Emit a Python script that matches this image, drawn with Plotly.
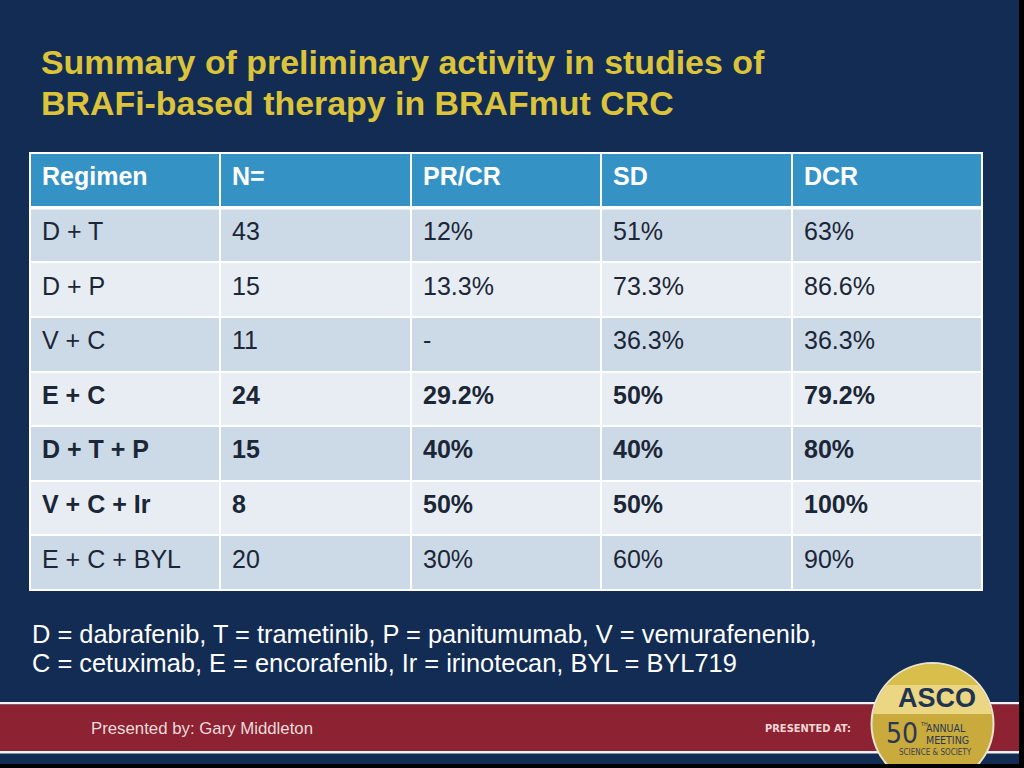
import numpy as np
import plotly.graph_objects as go

# ---- data ----
header = ["Regimen", "N=", "PR/CR", "SD", "DCR"]
regimens = ["D + T", "D + P", "V + C", "E + C", "D + T + P", "V + C + Ir", "E + C + BYL"]
n_pts = ["43", "15", "11", "24", "15", "8", "20"]
pr_cr = ["12%", "13.3%", "-", "29.2%", "40%", "50%", "30%"]
sd = ["51%", "73.3%", "36.3%", "50%", "40%", "50%", "60%"]
dcr = ["63%", "86.6%", "36.3%", "79.2%", "80%", "100%", "90%"]
bold_rows = [3, 4, 5]

title_lines = ["Summary of preliminary activity in studies of",
               "BRAFi-based therapy in BRAFmut CRC"]
footnote_lines = ["D = dabrafenib, T = trametinib, P = panitumumab, V = vemurafenenib,",
                  "C = cetuximab, E = encorafenib, Ir = irinotecan, BYL = BYL719"]
presenter = "Presented by: Gary Middleton"

# ---- styles ----
W, H = 1024, 768
NAVY = "#132c54"
HEAD = "#3592c5"
ROW_DARK = "#ccd9e6"
ROW_LIGHT = "#e8edf3"
TXT = "#1b2636"
YEL = "#dcc43a"
RED = "#8c2232"
FONT = "Liberation Sans, Arial, sans-serif"
COND = "DejaVu Sans Condensed, DejaVu Sans, sans-serif"


def px(x):
    return x / W


def py(y):
    return 1 - y / H


columns = [regimens, n_pts, pr_cr, sd, dcr]
n_rows = len(regimens)

# table grid: row 0 = header, rows 1..n = data
z = [[0] * 5] + [[1 if i % 2 == 0 else 2] * 5 for i in range(n_rows)]

tx0, tx1, ty0, ty1 = 30, 982, 153, 590

fig = go.Figure()
fig.add_trace(go.Heatmap(
    z=z, x=list(range(5)), y=list(range(n_rows + 1)),
    zmin=0, zmax=2, colorscale=[[0, HEAD], [0.333, HEAD], [0.334, ROW_DARK], [0.666, ROW_DARK],
                               [0.667, ROW_LIGHT], [1, ROW_LIGHT]],
    showscale=False, xgap=2, ygap=2, hoverinfo="skip",
    xaxis="x2", yaxis="y2",
))

shapes = []
# white grid background behind table
shapes.append(dict(type="rect", xref="paper", yref="paper", x0=px(tx0 - 1), x1=px(tx1 + 1),
                   y0=py(ty1 + 1), y1=py(ty0 - 1), fillcolor="white", line_width=0, layer="below"))
# thicker line under header
shapes.append(dict(type="line", xref="x2", yref="y2", x0=-0.5, x1=4.5, y0=0.5, y1=0.5,
                   line=dict(color="white", width=3.5), layer="above"))

# footer band
shapes.append(dict(type="rect", xref="paper", yref="paper", x0=0, x1=1, y0=py(704.5), y1=py(702),
                   fillcolor="#f2f2f2", line_width=0, layer="below"))
shapes.append(dict(type="rect", xref="paper", yref="paper", x0=0, x1=1, y0=py(751), y1=py(704.5),
                   fillcolor=RED, line_width=0, layer="below"))
shapes.append(dict(type="rect", xref="paper", yref="paper", x0=0, x1=1, y0=py(753.5), y1=py(751),
                   fillcolor="#f2f2f2", line_width=0, layer="below"))

# logo
cx, cy, r = 932.5, 724, 60
shapes.append(dict(type="circle", xref="paper", yref="paper", x0=px(cx - r - 2), x1=px(cx + r + 2),
                   y0=py(cy + r + 2), y1=py(cy - r - 2), fillcolor="#e9e4cf", line_width=0, layer="above"))
shapes.append(dict(type="circle", xref="paper", yref="paper", x0=px(cx - r), x1=px(cx + r),
                   y0=py(cy + r), y1=py(cy - r), fillcolor="#c9aa3c", line_width=0, layer="above"))


def band(ya, yb, color):
    ts = np.linspace(ya, yb, 40)
    left = [(cx - np.sqrt(max(r * r - (t - cy) ** 2, 0)), t) for t in ts]
    right = [(cx + np.sqrt(max(r * r - (t - cy) ** 2, 0)), t) for t in ts[::-1]]
    pts = left + right
    path = "M " + " L ".join(f"{px(x):.5f},{py(y):.5f}" for x, y in pts) + " Z"
    return dict(type="path", xref="paper", yref="paper", path=path, fillcolor=color,
                line_width=0, layer="above")


shapes.append(band(cy - r, 685, "#d8bf4c"))
shapes.append(band(685, 714, "#ead683"))
# black edges
shapes.append(dict(type="rect", xref="paper", yref="paper", x0=px(1019), x1=1, y0=0, y1=1,
                   fillcolor="black", line_width=0, layer="above"))
shapes.append(dict(type="rect", xref="paper", yref="paper", x0=0, x1=1, y0=0, y1=py(764),
                   fillcolor="black", line_width=0, layer="above"))

ann = []
# table texts
for c, h in enumerate(header):
    ann.append(dict(xref="x2", yref="y2", x=c - 0.5, y=0, xshift=10, yshift=4, text=f"<b>{h}</b>",
                    xanchor="left", yanchor="middle", showarrow=False,
                    font=dict(family=FONT, size=25, color="white")))
for c, col in enumerate(columns):
    for i, v in enumerate(col):
        t = f"<b>{v}</b>" if i in bold_rows else v
        ann.append(dict(xref="x2", yref="y2", x=c - 0.5, y=i + 1, xshift=10, yshift=4, text=t,
                        xanchor="left", yanchor="middle", showarrow=False,
                        font=dict(family=FONT, size=25, color=TXT)))

for i, line in enumerate(title_lines):
    ann.append(dict(xref="paper", yref="paper", x=px(39), y=py(62 + 41 * i), text=f"<b>{line}</b>",
                    xanchor="left", yanchor="middle", showarrow=False,
                    font=dict(family=FONT, size=33.9, color=YEL)))
for i, line in enumerate(footnote_lines):
    ann.append(dict(xref="paper", yref="paper", x=px(30), y=py(634 + 29 * i), text=line,
                    xanchor="left", yanchor="middle", showarrow=False,
                    font=dict(family=FONT, size=25.4, color="white")))
ann.append(dict(xref="paper", yref="paper", x=px(89), y=py(728), text=presenter, xanchor="left",
                yanchor="middle", showarrow=False, font=dict(family=FONT, size=16.8, color="#eadcdc")))
ann.append(dict(xref="paper", yref="paper", x=px(853), y=py(728), text="<b>PRESENTED AT:</b>",
                xanchor="right", yanchor="middle", showarrow=False,
                font=dict(family=COND, size=11, color="#f3d6d6")))
# logo texts
ann.append(dict(xref="paper", yref="paper", x=px(cx + 4), y=py(698), text="<b>ASCO</b>", xanchor="center",
                yanchor="middle", showarrow=False, font=dict(family=FONT, size=27, color="#1f3452")))
ann.append(dict(xref="paper", yref="paper", x=px(920), y=py(733), text="50", xanchor="right",
                yanchor="middle", showarrow=False, font=dict(family=COND, size=28, color="#2a3755")))
ann.append(dict(xref="paper", yref="paper", x=px(919), y=py(724), text="TH", xanchor="left",
                yanchor="middle", showarrow=False, font=dict(family=FONT, size=5, color="#2a3755")))
ann.append(dict(xref="paper", yref="paper", x=px(924), y=py(728), text="ANNUAL", xanchor="left",
                yanchor="middle", showarrow=False, font=dict(family=COND, size=10.5, color="#2a3755")))
ann.append(dict(xref="paper", yref="paper", x=px(924), y=py(739.5), text="MEETING", xanchor="left",
                yanchor="middle", showarrow=False, font=dict(family=COND, size=10.5, color="#2a3755")))
ann.append(dict(xref="paper", yref="paper", x=px(935), y=py(752), text="SCIENCE &amp; SOCIETY",
                xanchor="center", yanchor="middle", showarrow=False,
                font=dict(family=COND, size=8, color="#3a4050")))

fig.update_layout(
    width=W, height=H, margin=dict(l=0, r=0, t=0, b=0),
    paper_bgcolor=NAVY, plot_bgcolor="rgba(0,0,0,0)",
    xaxis2=dict(domain=[px(tx0), px(tx1)], range=[-0.5, 4.5], visible=False, fixedrange=True,
                anchor="y2"),
    yaxis2=dict(domain=[py(ty1), py(ty0)], range=[n_rows + 0.5, -0.5], visible=False,
                fixedrange=True, anchor="x2"),
    shapes=shapes, annotations=ann, showlegend=False,
)
fig.write_html("out.html", post_script="document.body.style.margin='0px';",
               config={"displayModeBar": False})
